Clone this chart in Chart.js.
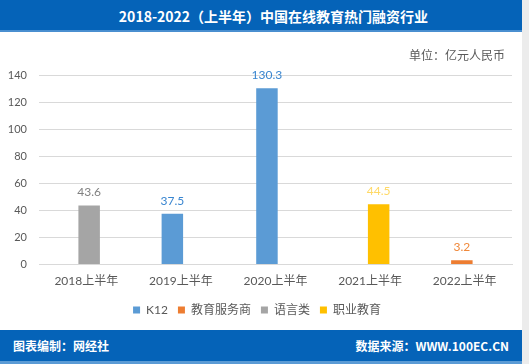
<!DOCTYPE html>
<html>
<head>
<meta charset="utf-8">
<script src="https://cdn.jsdelivr.net/npm/chart.js@4.4.0/dist/chart.umd.min.js"></script>
<style>
  html, body { margin: 0; padding: 0; }
  body { width: 529px; height: 364px; background: #ececec; position: relative; overflow: hidden;
         font-family: "Noto Sans CJK SC", sans-serif; }
  #wrap { position: absolute; left: 0; top: 0; width: 522px; height: 364px; background: #fff; }
  #head { position: absolute; left: 0; top: 0; width: 522px; height: 32px; background: #0563b8;
          border-bottom: 2px solid #4a8fd0; color: #fff; font-weight: bold; font-size: 14px;
          line-height: 32px; text-align: center; padding-left: 25px; box-sizing: border-box; }
  #panel { position: absolute; left: 2px; top: 34px; width: 520px; height: 296px; background: #fff; }
  #unit { position: absolute; right: 17px; top: 46px; font-size: 12px; color: #595959; }
  #foot { position: absolute; left: 0; top: 330px; width: 522px; height: 31px; background: #0563b8;
          border-bottom: 3px solid #5b9bd5; color: #fff; font-weight: bold; font-size: 12px; line-height: 31px; }
  #foot .l { position: absolute; left: 13px; }
  #foot .r { position: absolute; right: 13px; }
</style>
</head>
<body>
<div id="wrap">
  <div id="head">2018-2022（上半年）中国在线教育热门融资行业</div>
  <div id="panel"><canvas id="myChart" width="520" height="296"></canvas></div>
  <div id="unit">单位：亿元人民币</div>
  <div id="foot"><span class="l">图表编制：网经社</span><span class="r">数据来源：WWW.100EC.CN</span></div>
</div>
<script>
// 数据
const labels = ['2018上半年', '2019上半年', '2020上半年', '2021上半年', '2022上半年'];
const seriesNames = ['K12', '教育服务商', '语言类', '职业教育'];
const k12 = [null, 37.5, 130.3, null, null];
const eduService = [null, null, null, null, 3.2];
const language = [43.6, null, null, null, null];
const vocational = [null, null, null, 44.5, null];
const yTicks = [0, 20, 40, 60, 80, 100, 120, 140];

const barColors = ['#5b9bd5', '#ed7d31', '#a5a5a5', '#ffc000'];
const labelColors = ['#3a86d0', '#f0883a', '#808080', '#ffd966'];
const fontFam = 'Lato, "Noto Sans CJK SC"';

// 数据标签
const valueLabels = {
  id: 'valueLabels',
  afterDatasetsDraw(chart) {
    const ctx = chart.ctx;
    ctx.save();
    ctx.font = '12px ' + fontFam;
    ctx.textAlign = 'center';
    ctx.textBaseline = 'middle';
    chart.data.datasets.forEach((ds, i) => {
      const meta = chart.getDatasetMeta(i);
      meta.data.forEach((bar, j) => {
        if (ds.data[j] == null) return;
        ctx.fillStyle = labelColors[i];
        ctx.fillText(ds.data[j].toFixed(1), bar.x, bar.y - 13);
      });
    });
    ctx.restore();
  }
};

const ctx = document.getElementById('myChart').getContext('2d');
new Chart(ctx, {
  type: 'bar',
  data: {
    labels: labels,
    datasets: [k12, eduService, language, vocational].map((d, i) => ({
      label: seriesNames[i],
      data: d,
      backgroundColor: barColors[i],
      categoryPercentage: 0.241,
      barPercentage: 3.77
    }))
  },
  options: {
    responsive: false,
    animation: false,
    layout: { padding: { left: 0, right: 10, top: 41, bottom: 4 } },
    scales: {
      x: {
        grid: { display: false },
        border: { color: '#d9d9d9' },
        afterFit: (axis) => { axis.height += 5; },
        ticks: { color: '#595959', font: { size: 12, family: fontFam }, padding: 1 }
      },
      y: {
        min: 0, max: 140,
        afterBuildTicks: (axis) => { axis.ticks = yTicks.map(v => ({ value: v })); },
        afterFit: (axis) => { axis.width = 37; },
        grid: { color: '#d9d9d9', drawTicks: false },
        border: { display: false },
        ticks: { color: '#595959', font: { size: 11, family: fontFam }, padding: 12 }
      }
    },
    plugins: {
      legend: {
        position: 'bottom',
        labels: { boxWidth: 7, boxHeight: 7, color: '#595959', padding: 10,
                  font: { size: 12, family: fontFam } }
      },
      tooltip: { enabled: false }
    }
  },
  plugins: [valueLabels]
});
</script>
</body>
</html>
